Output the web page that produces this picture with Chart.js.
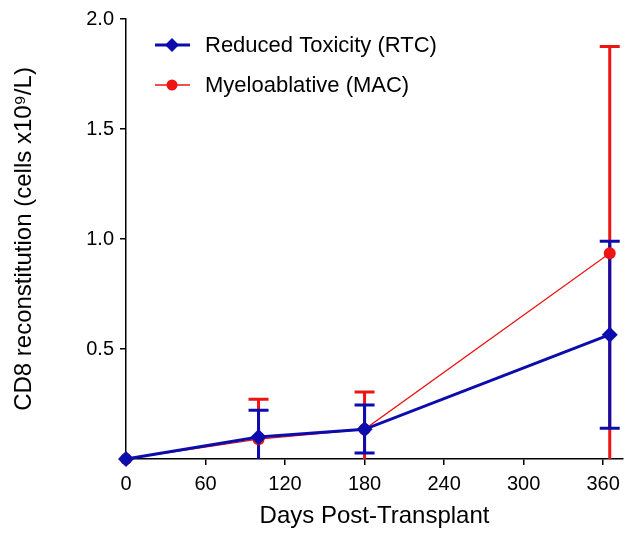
<!DOCTYPE html>
<html>
<head>
<meta charset="utf-8">
<script src="https://cdn.jsdelivr.net/npm/chart.js@4.4.0/dist/chart.umd.min.js"></script>
<style>
  html, body { margin: 0; padding: 0; background: #fff; }
  #wrap { width: 631px; height: 535px; }
</style>
</head>
<body>
<div id="wrap"><canvas id="myChart" width="631" height="535"></canvas></div>
<script>
// days post-transplant
const days = [0, 100, 180, 365];

// Reduced Toxicity (RTC)
const rtcMean = [0, 0.10, 0.135, 0.565];
const rtcLow  = [0, 0, 0.027, 0.14];
const rtcHigh = [0, 0.222, 0.245, 0.99];

// Myeloablative (MAC)
const macMean = [0, 0.09, 0.135, 0.935];
const macLow  = [0, 0, 0, 0];
const macHigh = [0, 0.272, 0.305, 1.875];

const xTicks = [0, 60, 120, 180, 240, 300, 360];
const yTicks = [0.5, 1.0, 1.5, 2.0];

const blue = '#0c0cae';
const red = '#ee1414';
const fontFam = '"Liberation Sans", Arial, sans-serif';

const toPoints = (xs, ys) => xs.map((x, i) => ({ x: x, y: ys[i] }));

// error bars drawn under the lines and markers
const errorBars = {
    id: 'errorBars',
    beforeDatasetsDraw(chart) {
        const ctx = chart.ctx;
        const xs = chart.scales.x, ys = chart.scales.y;
        const sets = [
            { low: macLow, high: macHigh, color: red },
            { low: rtcLow, high: rtcHigh, color: blue }
        ];
        ctx.save();
        sets.forEach(s => {
            ctx.strokeStyle = s.color;
            ctx.lineWidth = 3;
            days.forEach((d, i) => {
                if (s.high[i] === s.low[i]) return;
                const px = xs.getPixelForValue(d);
                const yl = ys.getPixelForValue(s.low[i]);
                const yh = ys.getPixelForValue(s.high[i]);
                ctx.beginPath();
                ctx.moveTo(px, yl);
                ctx.lineTo(px, yh);
                ctx.moveTo(px - 10, yh);
                ctx.lineTo(px + 10, yh);
                if (s.low[i] > 0) {
                    ctx.moveTo(px - 10, yl);
                    ctx.lineTo(px + 10, yl);
                }
                ctx.stroke();
            });
        });
        ctx.restore();
    }
};

// GraphPad style legend: line with marker
const lineLegend = {
    id: 'lineLegend',
    afterDraw(chart) {
        const ctx = chart.ctx;
        const items = [
            { label: 'Reduced Toxicity (RTC)', color: blue, width: 3, y: 45, diamond: true },
            { label: 'Myeloablative (MAC)', color: red, width: 1.5, y: 85, diamond: false }
        ];
        ctx.save();
        items.forEach(it => {
            ctx.strokeStyle = it.color;
            ctx.fillStyle = it.color;
            ctx.lineWidth = it.width;
            ctx.beginPath();
            ctx.moveTo(155, it.y);
            ctx.lineTo(190, it.y);
            ctx.stroke();
            ctx.beginPath();
            if (it.diamond) {
                ctx.moveTo(172, it.y - 7);
                ctx.lineTo(179, it.y);
                ctx.lineTo(172, it.y + 7);
                ctx.lineTo(165, it.y);
                ctx.closePath();
            } else {
                ctx.arc(172, it.y, 5.5, 0, Math.PI * 2);
            }
            ctx.fill();
            ctx.fillStyle = '#000';
            ctx.font = '22px ' + fontFam;
            ctx.textBaseline = 'middle';
            ctx.fillText(it.label, 205, it.y + 1);
        });
        ctx.restore();
    }
};

const ctx = document.getElementById('myChart').getContext('2d');
const myChart = new Chart(ctx, {
    type: 'line',
    data: {
        datasets: [{
            label: 'Reduced Toxicity (RTC)',
            data: toPoints(days, rtcMean),
            borderColor: blue,
            backgroundColor: blue,
            borderWidth: 3,
            pointStyle: 'rectRot',
            pointRadius: 8,
            pointHoverRadius: 8,
            pointBorderWidth: 0,
            lineTension: 0,
            clip: false
        }, {
            label: 'Myeloablative (MAC)',
            data: toPoints(days, macMean),
            borderColor: red,
            backgroundColor: red,
            borderWidth: 1.2,
            pointStyle: 'circle',
            pointRadius: 6,
            pointHoverRadius: 6,
            pointBorderWidth: 0,
            lineTension: 0,
            clip: false
        }]
    },
    options: {
        responsive: false,
        animation: false,
        layout: { padding: { top: 19, right: 8, left: 0, bottom: 0 } },
        plugins: {
            legend: { display: false },
            tooltip: { enabled: false }
        },
        scales: {
            x: {
                type: 'linear',
                min: 0,
                max: 375,
                afterBuildTicks: s => { s.ticks = xTicks.map(v => ({ value: v })); },
                afterFit: s => { s.height = 76; },
                grid: { drawOnChartArea: false, color: '#000', tickLength: 6, lineWidth: 1.5 },
                border: { color: '#000', width: 1.5 },
                ticks: { color: '#000', font: { family: fontFam, size: 20 }, padding: 7, maxRotation: 0 },
                title: {
                    display: true,
                    text: 'Days Post-Transplant',
                    color: '#000',
                    font: { family: fontFam, size: 24 },
                    padding: { top: 0, bottom: 4 }
                }
            },
            y: {
                type: 'linear',
                min: 0,
                max: 2,
                afterBuildTicks: s => { s.ticks = yTicks.map(v => ({ value: v })); },
                afterFit: s => { s.width = 126; },
                grid: { drawOnChartArea: false, color: '#000', tickLength: 6, lineWidth: 1.5 },
                border: { color: '#000', width: 1.5 },
                ticks: {
                    color: '#000',
                    font: { family: fontFam, size: 20 },
                    padding: 6,
                    callback: v => v.toFixed(1)
                },
                title: {
                    display: true,
                    text: 'CD8 reconstitution (cells x10\u2079/L)',
                    color: '#000',
                    font: { family: fontFam, size: 24 },
                    padding: { top: 10, bottom: 0 }
                }
            }
        }
    },
    plugins: [errorBars, lineLegend]
});
</script>
</body>
</html>
